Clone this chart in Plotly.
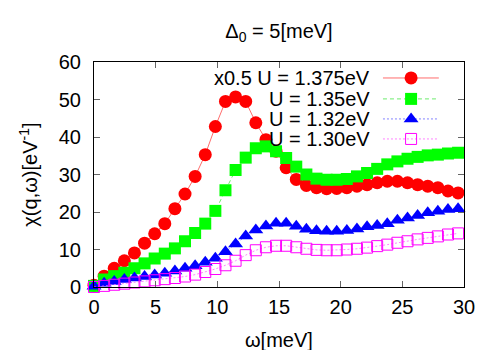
import plotly.graph_objects as go

# ---------------- data ----------------
omega = [0, 0.82, 1.64, 2.46, 3.28, 4.1, 4.92, 5.74, 6.56, 7.38, 8.2, 9.02, 9.84,
         10.66, 11.48, 12.3, 13.12, 13.94, 14.76, 15.58, 16.4, 17.22, 18.04, 18.86,
         19.68, 20.5, 21.32, 22.14, 22.96, 23.78, 24.6, 25.42, 26.24, 27.06, 27.88,
         28.7, 29.52]

chi_u1375_half = [0.5, 2.9, 5.0, 7.0, 9.1, 11.7, 14.2, 16.9, 20.9, 24.8, 29.5, 35.3, 42.8,
                  49.5, 50.7, 49.5, 43.8, 39.3, 36.2, 31.8, 28.7, 27.1, 26.5, 26.2,
                  26.3, 26.5, 26.9, 27.3, 27.8, 28.2, 28.2, 27.8, 27.3, 26.9, 26.5,
                  25.6, 25.1]

chi_u135 = [0.3, 2.0, 2.9, 3.8, 5.0, 6.3, 7.6, 8.9, 10.3, 12.2, 14.4, 16.9, 20.3,
            25.8, 31.2, 34.5, 37.0, 37.5, 36.2, 34.4, 32.1, 30.0, 28.9, 28.6,
            28.6, 28.8, 29.5, 30.4, 31.5, 32.7, 33.5, 34.2, 34.7, 35.1, 35.3,
            35.6, 35.8]

chi_u132 = [0.2, 1.0, 1.5, 2.0, 2.4, 2.8, 3.2, 3.7, 4.3, 5.0, 5.7, 6.6, 7.7,
            9.4, 11.5, 13.6, 15.2, 16.3, 17.0, 17.0, 16.2, 15.4, 15.0, 14.9,
            14.9, 15.1, 15.5, 16.1, 16.4, 16.9, 17.8, 18.4, 19.1, 19.8, 20.2,
            20.7, 20.9]

chi_u130 = [0.0, 0.3, 0.6, 0.9, 1.2, 1.5, 1.8, 2.1, 2.4, 2.8, 3.3, 4.0, 4.8,
            5.8, 7.0, 8.5, 9.8, 10.6, 11.0, 11.0, 10.6, 10.2, 9.9, 9.8,
            9.8, 10.0, 10.2, 10.5, 10.9, 11.3, 11.8, 12.2, 12.7, 13.1, 13.5,
            14.0, 14.3]

series_labels = ["x0.5 U = 1.375eV", "U = 1.35eV", "U = 1.32eV", "U = 1.30eV"]
series_values = [chi_u1375_half, chi_u135, chi_u132, chi_u130]

x_ticks = [0, 5, 10, 15, 20, 25, 30]
y_ticks = [0, 10, 20, 30, 40, 50, 60]

# ---------------- styles ----------------
FONT = "Liberation Sans, Arial, Helvetica, sans-serif"
FS = 20
marker_colors = ["#ff0000", "#00ff00", "#0000ff", "#ff00ff"]
line_colors = ["rgba(255,60,60,0.75)", "rgba(60,230,60,0.75)",
               "rgba(90,90,255,0.75)", "rgba(255,90,255,0.75)"]
line_dash = ["solid", "4px,3px", "2px,2px", "2px,2px"]
symbols = ["circle", "square", "triangle-up", "square-open"]
sizes = [13, 12, 13, 11]

fig = go.Figure()

for lab, vals, mc, lc, ld, sym, sz in zip(series_labels, series_values, marker_colors,
                                          line_colors, line_dash, symbols, sizes):
    fig.add_trace(go.Scatter(
        x=omega, y=vals, mode="lines+markers", name=lab, showlegend=False,
        line=dict(color=lc, width=1, dash=ld),
        marker=dict(symbol=sym, size=sz, color=mc,
                    line=dict(width=1 if sym.endswith("open") else 0, color=mc)),
        cliponaxis=False,
    ))

# ---------------- gnuplot-style key (text left, sample right) ----------------
key_rows_y = [0.929, 0.836, 0.747, 0.658]   # paper positions of key rows
key_line_x = [0.781, 0.932]
key_mark_x = 0.857
key_text_x = 0.752

for lab, ry, mc, lc, ld, sym, sz in zip(series_labels, key_rows_y, marker_colors,
                                        line_colors, line_dash, symbols, sizes):
    fig.add_trace(go.Scatter(
        x=key_line_x, y=[ry, ry], xaxis="x2", yaxis="y2", mode="lines",
        line=dict(color=lc, width=1, dash=ld), showlegend=False, hoverinfo="skip",
        cliponaxis=False))
    fig.add_trace(go.Scatter(
        x=[key_mark_x], y=[ry], xaxis="x2", yaxis="y2", mode="markers",
        marker=dict(symbol=sym, size=sz, color=mc,
                    line=dict(width=1 if sym.endswith("open") else 0, color=mc)),
        showlegend=False, hoverinfo="skip", cliponaxis=False))
    fig.add_annotation(x=key_text_x, y=ry, xref="paper", yref="paper", text=lab,
                       showarrow=False, xanchor="right", yanchor="middle",
                       font=dict(family=FONT, size=FS, color="black"))

# axis titles (placed like gnuplot's labels)
fig.add_annotation(x=0.5, y=-0.235, xref="paper", yref="paper", text="ω[meV]",
                   showarrow=False, xanchor="center", yanchor="middle",
                   font=dict(family=FONT, size=FS, color="black"))
fig.add_annotation(x=-0.178, y=0.5, xref="paper", yref="paper",
                   text="χ(q,ω)[eV<sup>-1</sup>]", textangle=-90,
                   showarrow=False, xanchor="center", yanchor="middle",
                   font=dict(family=FONT, size=FS, color="black"))

axis_common = dict(
    showgrid=False, zeroline=False, showline=True, linecolor="black", linewidth=1,
    mirror="allticks", ticks="inside", ticklen=6, tickwidth=1, tickcolor="#666",
    tickfont=dict(family=FONT, size=FS, color="black"), automargin=False,
)

# the page body has an 8px margin, so the figure is offset by 8px
fig.update_layout(
    width=500, height=350, autosize=False,
    margin=dict(l=86, r=44, t=54, b=71),
    paper_bgcolor="white", plot_bgcolor="white",
    title=dict(text="Δ<sub>0</sub> = 5[meV]", x=0.5, xref="paper", y=0.935,
               yref="container", xanchor="center", yanchor="middle",
               font=dict(family=FONT, size=FS, color="black")),
    xaxis=dict(range=[0, 30], tickvals=x_ticks, ticktext=[str(t) for t in x_ticks],
               ticklabelstandoff=2, **axis_common),
    yaxis=dict(range=[0, 60], tickvals=y_ticks, ticktext=[str(t) for t in y_ticks],
               ticklabelstandoff=8, **axis_common),
    xaxis2=dict(overlaying="x", range=[0, 1], visible=False),
    yaxis2=dict(overlaying="y", range=[0, 1], visible=False),
    showlegend=False,
)

fig.write_html("out.html")
